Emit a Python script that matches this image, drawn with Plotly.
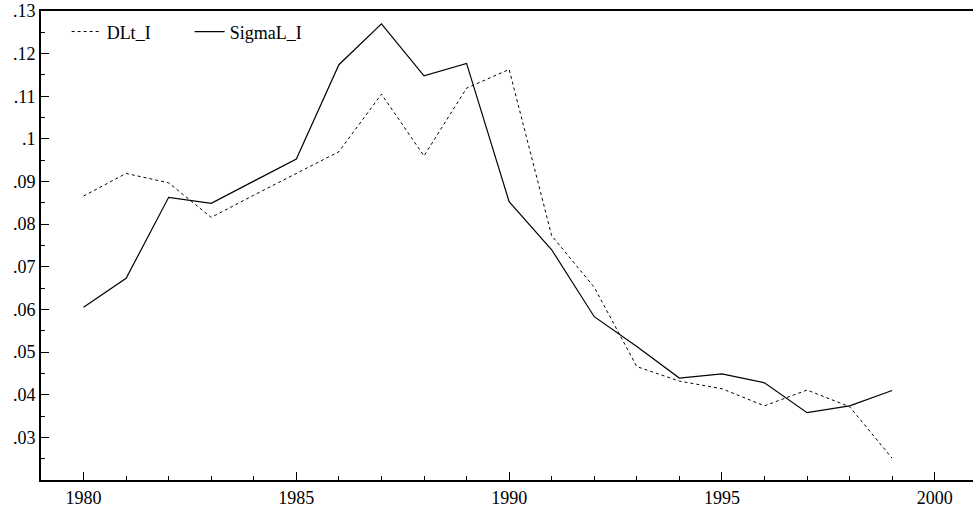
import plotly.graph_objects as go

years = list(range(1980, 2000))

dlt_i = [0.0866, 0.0919, 0.0897, 0.0816, 0.0868, 0.0919, 0.0970, 0.1105, 0.0960, 0.1119,
         0.1163, 0.0773, 0.0652, 0.0466, 0.0432, 0.0414, 0.0374, 0.0411, 0.0372, 0.0251]

sigmal_i = [0.0605, 0.0673, 0.0863, 0.0849, 0.0901, 0.0953, 0.1174, 0.1270, 0.1148, 0.1177,
            0.0853, 0.0740, 0.0583, 0.0513, 0.0439, 0.0449, 0.0428, 0.0358, 0.0374, 0.0410]

y_ticks = [0.03, 0.04, 0.05, 0.06, 0.07, 0.08, 0.09, 0.10, 0.11, 0.12, 0.13]
y_labels = [".03", ".04", ".05", ".06", ".07", ".08", ".09", ".1", ".11", ".12", ".13"]
x_ticks = [1980, 1985, 1990, 1995, 2000]

font = dict(family="Liberation Serif, Times New Roman, serif", size=18, color="black")

fig = go.Figure()
fig.add_trace(go.Scatter(x=years, y=dlt_i, mode="lines", name="DLt_I",
                         line=dict(color="black", width=1, dash="dot")))
fig.add_trace(go.Scatter(x=years, y=sigmal_i, mode="lines", name="SigmaL_I",
                         line=dict(color="black", width=1.2)))

fig.update_layout(
    width=974, height=510,
    margin=dict(l=41, r=1, t=11, b=30),
    paper_bgcolor="white", plot_bgcolor="white",
    font=font,
    showlegend=True,
    legend=dict(orientation="h", x=0.0275, y=0.995, xanchor="left", yanchor="top",
                bgcolor="rgba(0,0,0,0)", font=font, entrywidth=78,
                entrywidthmode="pixels"),
)
fig.update_xaxes(
    range=[1979, 2000.9], showgrid=False, zeroline=False,
    showline=True, linecolor="black", linewidth=1.8, mirror=True,
    tickvals=x_ticks, ticks="inside", ticklen=8, tickcolor="black",
    minor=dict(dtick=1, tick0=1980, ticks="inside", ticklen=4, tickcolor="black", showgrid=False),
)
fig.update_yaxes(
    range=[0.02, 0.13], showgrid=False, zeroline=False,
    showline=True, linecolor="black", linewidth=1.8,
    tickvals=y_ticks, ticktext=y_labels, ticks="inside", ticklen=8, tickcolor="black",
    minor=dict(dtick=0.005, tick0=0, ticks="inside", ticklen=4, tickcolor="black", showgrid=False),
)

fig.write_html("out.html")
